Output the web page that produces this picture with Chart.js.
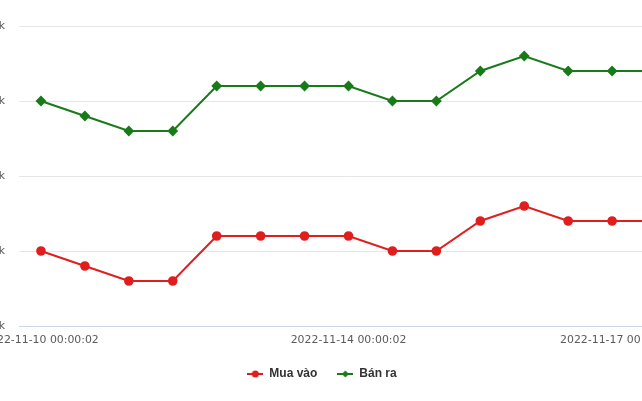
<!DOCTYPE html>
<html>
<head>
<meta charset="utf-8">
<script src="https://cdn.jsdelivr.net/npm/chart.js@4"></script>
<style>
  html, body { margin: 0; padding: 0; background: #fff; overflow: hidden; }
  #wrap { position: absolute; left: -61px; top: 0; width: 766px; height: 401px; }
</style>
</head>
<body>
<div id="wrap"><canvas id="myChart"></canvas></div>
<script>
// gia vang (nghin dong), moi diem mot lan cap nhat
const categories = ['2022-11-10 00:00:02', '', '', '', '', '', '', '2022-11-14 00:00:02', '', '', '', '', '', '', '2022-11-17 00:00:02']
const muaVao = [6600, 6590, 6580, 6580, 6610, 6610, 6610, 6610, 6600, 6600, 6620, 6630, 6620, 6620, 6620]
const banRa = [6700, 6690, 6680, 6680, 6710, 6710, 6710, 6710, 6700, 6700, 6720, 6730, 6720, 6720, 6720]
const yTicks = [6550, 6600, 6650, 6700, 6750]

const RED = '#e01e1e'
const GREEN = '#187a18'

// legend icon: short line with the marker in the middle
function legendIcon(color, style) {
    const c = document.createElement('canvas')
    c.width = 16; c.height = 10
    const ctx = c.getContext('2d')
    ctx.strokeStyle = color; ctx.fillStyle = color; ctx.lineWidth = 2
    ctx.beginPath(); ctx.moveTo(0, 5); ctx.lineTo(16, 5); ctx.stroke()
    ctx.beginPath()
    if (style === 'circle') {
        ctx.arc(8, 5, 3.5, 0, Math.PI * 2)
    } else {
        ctx.moveTo(8, 1.5); ctx.lineTo(11.5, 5); ctx.lineTo(8, 8.5); ctx.lineTo(4.5, 5); ctx.closePath()
    }
    ctx.fill()
    return c
}
const icons = [legendIcon(RED, 'circle'), legendIcon(GREEN, 'diamond')]

let chart = new Chart(document.getElementById('myChart'), {
    type: 'line',
    data: {
        labels: categories,
        datasets: [{
            label: 'Mua vào',
            data: muaVao,
            borderColor: RED,
            backgroundColor: RED,
            borderWidth: 2,
            pointStyle: 'circle',
            pointRadius: 3.8,
            tension: 0
        }, {
            label: 'Bán ra',
            data: banRa,
            borderColor: GREEN,
            backgroundColor: GREEN,
            borderWidth: 2,
            pointStyle: 'rectRot',
            pointRadius: 4,
            tension: 0
        }]
    },
    options: {
        responsive: true,
        maintainAspectRatio: false,
        animation: false,
        layout: { padding: { top: 26, right: 0, bottom: 11, left: 0 } },
        scales: {
            x: {
                offset: true,
                grid: { display: false, drawTicks: false },
                border: { display: true, color: '#ccd6eb' },
                afterFit: s => { s.height = 22; s.paddingRight = 27 },
                ticks: {
                    autoSkip: false,
                    maxRotation: 0,
                    padding: 8,
                    color: '#5a5a5a',
                    font: { family: 'DejaVu Sans', size: 10.9 },
                    callback: function (v, i) {
                        const t = categories[i]
                        // last label is pushed left so it stays inside the plot
                        if (i === categories.length - 1 && t) return t + '\u2003'.repeat(7)
                        return t
                    }
                }
            },
            y: {
                min: yTicks[0],
                max: yTicks[yTicks.length - 1],
                afterBuildTicks: s => { s.ticks = yTicks.map(v => ({ value: v })) },
                afterFit: s => { s.width = 80 },
                grid: { color: '#e6e6e6', drawTicks: false },
                border: { display: false },
                ticks: {
                    padding: 14,
                    color: '#5a5a5a',
                    font: { family: 'DejaVu Sans', size: 10.9 },
                    callback: v => v.toLocaleString('en-US') + 'k'
                }
            }
        },
        plugins: {
            legend: {
                position: 'bottom',
                labels: {
                    usePointStyle: true,
                    pointStyleWidth: 16,
                    padding: 20,
                    color: '#333',
                    font: { family: 'Liberation Sans', size: 12, weight: 'bold' },
                    generateLabels(c) {
                        const items = Chart.defaults.plugins.legend.labels.generateLabels(c)
                        items.forEach((it, i) => { it.pointStyle = icons[i] })
                        return items
                    }
                }
            },
            tooltip: { enabled: false }
        }
    }
})
</script>
</body>
</html>
